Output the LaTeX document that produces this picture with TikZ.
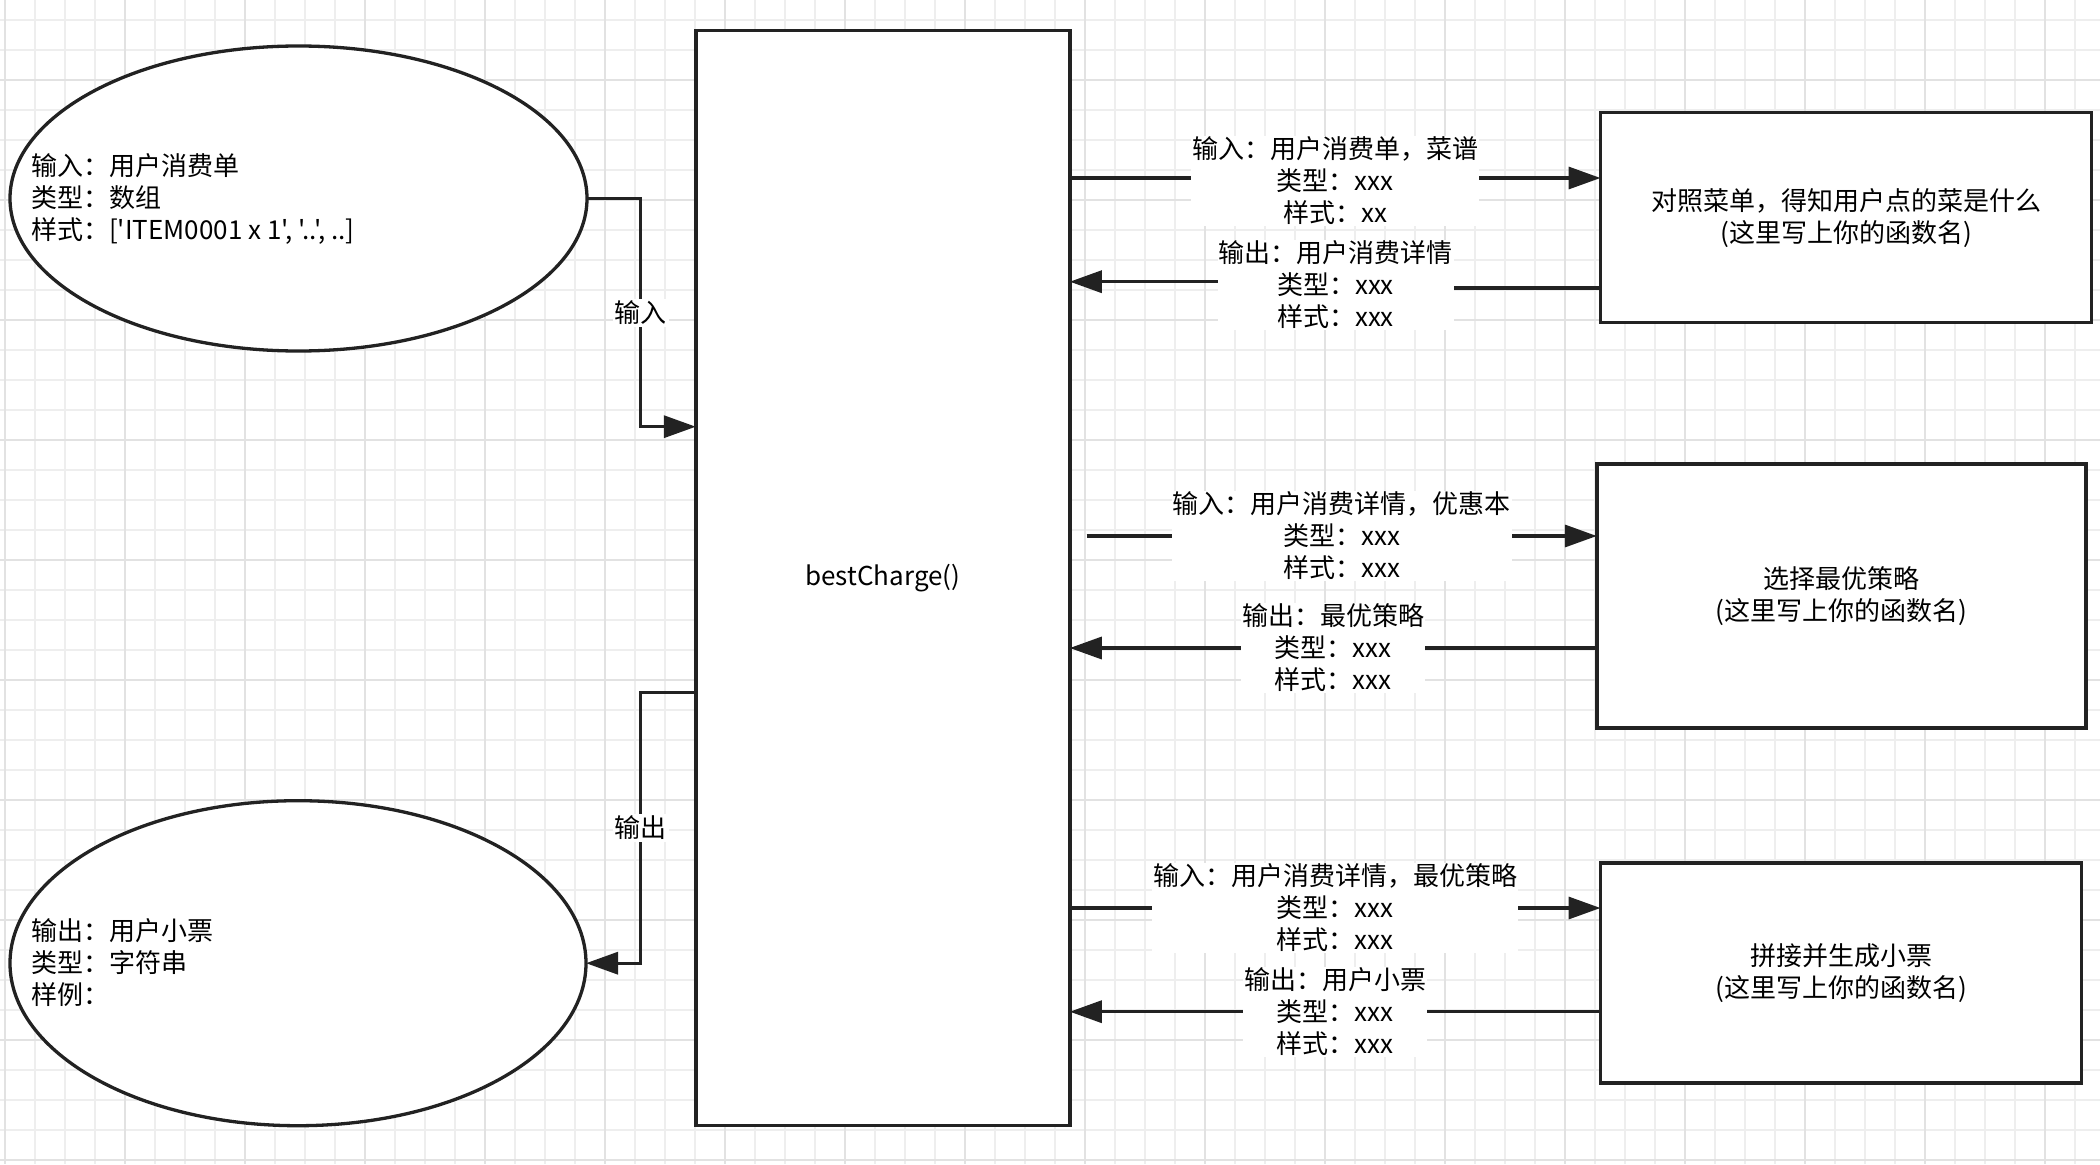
\documentclass[tikz,border=0pt]{standalone}
\usepackage{fontspec}
\newfontfamily\cjk[Ligatures=TeXOff]{Noto Sans CJK SC}
\usetikzlibrary{arrows.meta,shapes.geometric}
\definecolor{ink}{HTML}{222222}
\definecolor{gridminor}{HTML}{EEEEEE}
\definecolor{gridmajor}{HTML}{E2E2E2}
\begin{document}
\begin{tikzpicture}[x=1pt,y=-1pt,
  txt/.style={font=\cjk\fontsize{26}{32}\selectfont, text=black},
  shapebox/.style={rectangle, draw=ink, line width=3.5pt, fill=white, inner sep=0pt, outer sep=0pt},
  oval/.style={ellipse, draw=ink, line width=3.3pt, fill=white, inner sep=0pt, outer sep=0pt},
  conn/.style={draw=ink, line width=3.4pt},
  arr/.style={conn, -{Triangle[length=32pt,width=22pt]}},
  lbl/.style={txt, fill=white, align=center, inner sep=1pt},
]
\useasboundingbox (0,0) rectangle (2100,1164);
\fill[white] (0,0) rectangle (2100,1164);
\foreach \x in {5,35,...,2095} \draw[gridminor, line width=2pt] (\x,0) -- (\x,1164);
\foreach \y in {20,50,...,1160} \draw[gridminor, line width=2pt] (0,\y) -- (2100,\y);
\foreach \x in {5,125,...,2045} \draw[gridmajor, line width=2pt] (\x,0) -- (\x,1164);
\foreach \y in {80,200,...,1160} \draw[gridmajor, line width=2pt] (0,\y) -- (2100,\y);

% left ellipses
\node[oval, minimum width=577pt, minimum height=305pt] (in) at (298.5,198.5) {};
\node[txt, anchor=west, align=left, inner sep=0pt] (intext) at (31,198.5)
  {输入：用户消费单\\类型：数组\\样式：['ITEM0001 x 1', '..', ..]};
\node[oval, minimum width=576pt, minimum height=325pt] (out) at (298,963.2) {};
\node[txt, anchor=west, align=left, inner sep=0pt] (outtext) at (31,963)
  {输出：用户小票\\类型：字符串\\样例：};

% main function
\node[shapebox, txt, minimum width=374pt, minimum height=1095pt] (main) at (882.8,578) {bestCharge()};

% right boxes
\node[shapebox, txt, align=center, minimum width=491pt, minimum height=210pt] (b1) at (1846,217.7)
  {对照菜单，得知用户点的菜是什么\\(这里写上你的函数名)};
\node[shapebox, txt, align=center, minimum width=489pt, minimum height=264pt] (b2) at (1841.3,596.2)
  {选择最优策略\\(这里写上你的函数名)};
\node[shapebox, txt, align=center, minimum width=481pt, minimum height=220pt] (b3) at (1841,973)
  {拼接并生成小票\\(这里写上你的函数名)};

% left connectors
\draw[arr] (in.east) -| node[lbl, pos=0.75, inner sep=2pt] (lin) {输入} (640.7,426.7) -- (main.west |- 0,426.7);
\draw[arr] (main.west |- 0,692.7) -| node[lbl, pos=0.75, inner sep=2pt] (lout) {输出} (640.7,963.2) -- (out.east);

% right connectors
\draw[arr] (main.east |- 0,178) -- node[lbl, yshift=-3pt] (l1)
  {输入：用户消费单，菜谱\\类型：xxx\\样式：xx} (b1.west |- 0,178);
\draw[arr] (b1.west |- 0,288) -- ++(-265,0) node[lbl, yshift=3pt] (l2)
  {输出：用户消费详情\\类型：xxx\\样式：xxx} |- (main.east |- 0,281.7);
\draw[arr] ([xshift=16.7pt]main.east |- 0,536) -- node[lbl] (l3)
  {输入：用户消费详情，优惠本\\类型：xxx\\样式：xxx} (b2.west |- 0,536);
\draw[arr] (b2.west |- 0,648) -- node[lbl] (l4)
  {输出：最优策略\\类型：xxx\\样式：xxx} (main.east |- 0,648);
\draw[arr] (main.east |- 0,908) -- node[lbl] (l5)
  {输入：用户消费详情，最优策略\\类型：xxx\\样式：xxx} (b3.west |- 0,908);
\draw[arr] (b3.west |- 0,1011.7) -- node[lbl] (l6)
  {输出：用户小票\\类型：xxx\\样式：xxx} (main.east |- 0,1011.7);
\end{tikzpicture}
\end{document}
